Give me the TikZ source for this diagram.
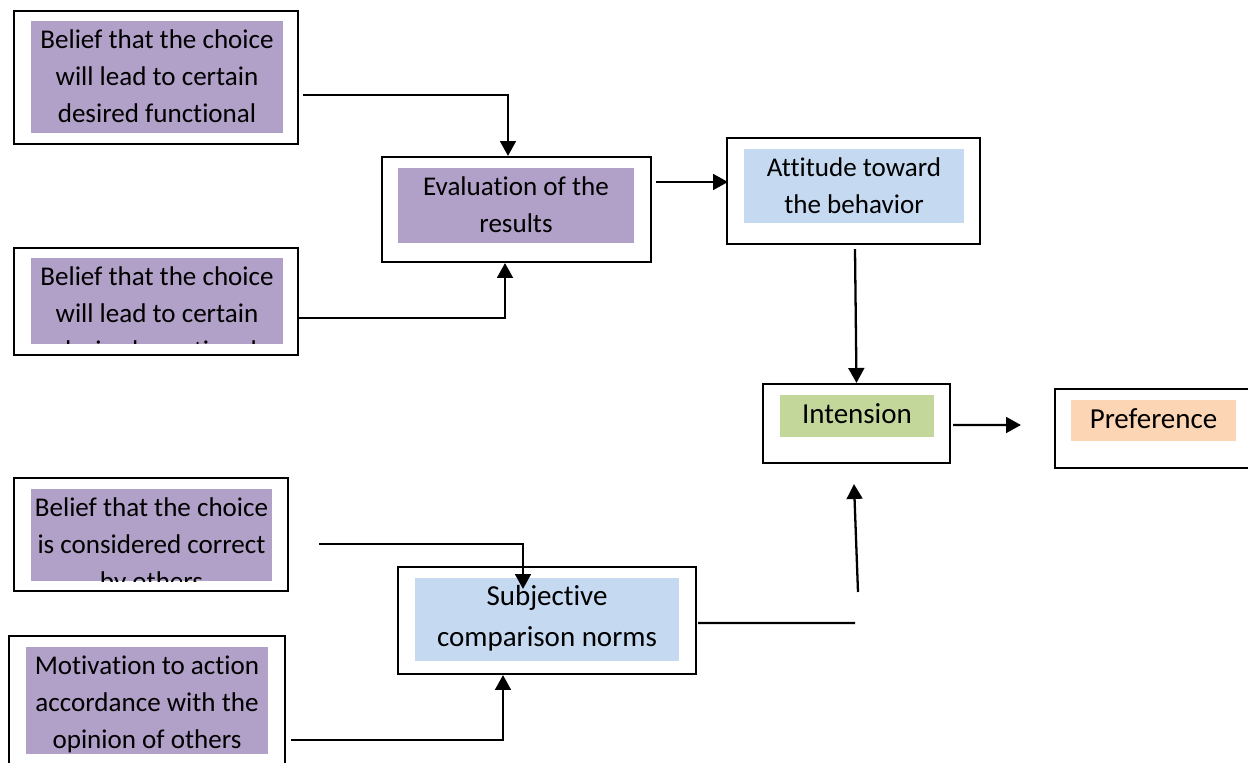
\documentclass[tikz,border=0pt]{standalone}
\usepackage{fontspec}
\setmainfont{Carlito}[Ligatures=NoCommon]
\usetikzlibrary{arrows.meta}
\definecolor{beliefpurple}{HTML}{B1A0C7}
\definecolor{attblue}{HTML}{C5D9F1}
\definecolor{intgreen}{HTML}{C4D79B}
\definecolor{prefpeach}{HTML}{FCD5B4}

\begin{document}
\begin{tikzpicture}[x=0.02cm, y=-0.02cm,
    outer/.style={draw, line width=1.2pt, inner sep=0pt},
    shade/.style={inner sep=0pt},
    txt/.style={anchor=north, inner sep=0pt, align=center, font=\fontsize{15.4}{21}\selectfont},
    bigtxt/.style={txt, font=\fontsize{16.5}{23.2}\selectfont},
    link/.style={line width=1.3pt},
    arr/.style={link, -{Triangle[length=8.5pt, width=9pt]}}]
      \useasboundingbox (0,0) rectangle (1248,763);

      % outer boxes
      \node[outer, minimum width=5.68cm, minimum height=2.66cm] (b1) at (156,77.5) {};
      \node[outer, minimum width=5.68cm, minimum height=2.14cm] (b2) at (156,301.5) {};
      \node[outer, minimum width=5.48cm, minimum height=2.26cm] (b3) at (151,534.5) {};
      \node[outer, minimum width=5.52cm, minimum height=2.9cm] (b4) at (147,708.5) {};
      \node[outer, minimum width=5.38cm, minimum height=2.1cm] (eval) at (516.5,209.5) {};
      \node[outer, minimum width=5.06cm, minimum height=2.12cm] (att) at (853.5,191) {};
      \node[outer, minimum width=3.74cm, minimum height=1.58cm] (int) at (856.5,423.5) {};
      \node[outer, minimum width=3.9cm, minimum height=1.58cm] (pref) at (1152.5,428.5) {};
      \node[outer, minimum width=5.96cm, minimum height=2.14cm] (subj) at (547,620.5) {};

      % coloured fills and texts
      \node[shade, fill=beliefpurple, minimum width=5.04cm, minimum height=2.24cm] (b1fill) at (157,77) {};
      \node[txt] (b1txt) at ([shift={(0,2)}]b1fill.north) {\strut Belief that the choice\\will lead to certain\\desired functional};

      \begin{scope}
        \clip (31,258) rectangle (283,344);
        \node[shade, fill=beliefpurple, minimum width=5.04cm, minimum height=1.72cm] (b2fill) at (157,301) {};
        \node[txt] (b2txt) at ([shift={(0,2)}]b2fill.north) {\strut Belief that the choice\\will lead to certain\\desired emotional};
      \end{scope}

      \begin{scope}
        \clip (31,489) rectangle (272,581);
        \node[shade, fill=beliefpurple, minimum width=4.82cm, minimum height=1.84cm] (b3fill) at (151.5,535) {};
        \node[txt] (b3txt) at ([shift={(0,2)}]b3fill.north) {\strut Belief that the choice\\is considered correct\\by others};
      \end{scope}

      \node[shade, fill=beliefpurple, minimum width=4.84cm, minimum height=2.14cm] (b4fill) at (147,700.5) {};
      \node[txt] (b4txt) at ([shift={(0,2)}]b4fill.north) {\strut Motivation to action\\accordance with the\\opinion of others};

      \node[shade, fill=beliefpurple, minimum width=4.72cm, minimum height=1.5cm] (evalfill) at (516,205.5) {};
      \node[txt] (evaltxt) at ([shift={(0,2)}]evalfill.north) {\strut Evaluation of the\\results};

      \node[shade, fill=attblue, minimum width=4.4cm, minimum height=1.48cm] (attfill) at (854,186) {};
      \node[txt] (atttxt) at ([shift={(0,2)}]attfill.north) {\strut Attitude toward\\the behavior};

      \node[shade, fill=intgreen, minimum width=3.08cm, minimum height=0.84cm] (intfill) at (857,416) {};
      \node[bigtxt] (inttxt) at (intfill.north) {\strut Intension};

      \node[shade, fill=prefpeach, minimum width=3.3cm, minimum height=0.82cm] (preffill) at (1153.5,420.5) {};
      \node[bigtxt] (preftxt) at (preffill.north) {\strut Preference};

      \node[shade, fill=attblue, minimum width=5.28cm, minimum height=1.66cm] (subjfill) at (547,619.5) {};
      \node[bigtxt] (subjtxt) at ([shift={(0,-1)}]subjfill.north) {\strut Subjective\\comparison norms};

      % connectors
      \coordinate (subjend) at (855,623);
      \coordinate (intfoot) at (858,592);

      \draw[arr] ([shift={(4,17.5)}]b1.east) -| ([shift={(-8.5,0)}]eval.north);
      \draw[arr] ([shift={(0,16.5)}]b2.east) -| ([shift={(-11.5,0)}]eval.south);
      \draw[arr] ([shift={(4,-27.5)}]eval.east) -- ([shift={(2,-9)}]att.west);
      \draw[arr] ([shift={(1.5,4)}]att.south) -- (int.north);
      \draw[arr] ([shift={(2,1.5)}]int.east) -- ([shift={(-33,-3.5)}]pref.west);
      \draw[link] ([shift={(1,2.5)}]subj.east) -- (subjend);
      \draw[arr] (intfoot) -- ([shift={(-2.5,20)}]int.south);
      \draw[arr] ([shift={(30,9.5)}]b3.east) -| ([shift={(-24,23)}]subj.north);
      \draw[arr] ([shift={(5,31.5)}]b4.east) -| ([shift={(-44,0)}]subj.south);
\end{tikzpicture}
\end{document}
